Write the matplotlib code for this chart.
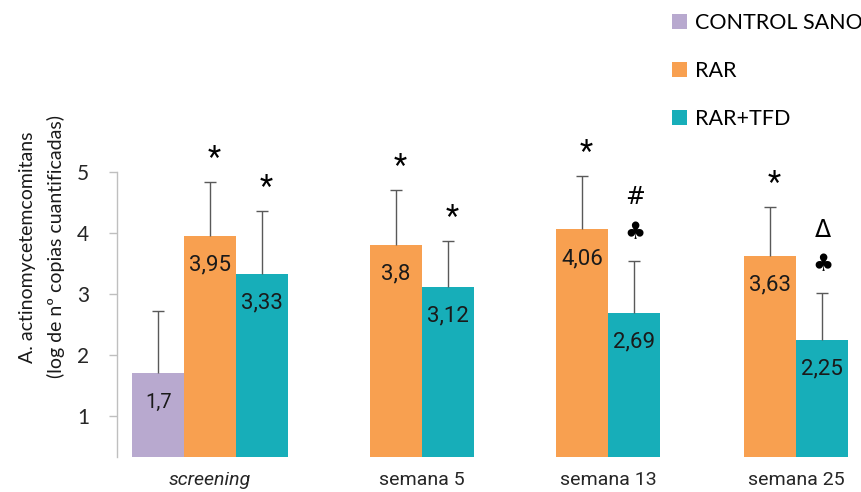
import matplotlib
matplotlib.use("Agg")
import matplotlib.pyplot as plt

plt.rcParams["font.family"] = ["Lato", "DejaVu Sans"]

# --- data -------------------------------------------------------------------
groups = ["screening", "semana 5", "semana 13", "semana 25"]

control = [1.7]            # only measured at screening
control_err = [1.02]

rar = [3.95, 3.8, 4.06, 3.63]
rar_err = [0.89, 0.91, 0.88, 0.80]

rar_tfd = [3.33, 3.12, 2.69, 2.25]
rar_tfd_err = [1.03, 0.75, 0.85, 0.76]

# significance marks stacked above each error bar (bottom to top)
rar_marks = [["*"], ["*"], ["*"], ["*"]]
rar_tfd_marks = [["*"], ["*"], ["♣", "#"], ["♣", "Δ"]]

labels = ["CONTROL SANO", "RAR", "RAR+TFD"]

# --- style / layout ---------------------------------------------------------
COLORS = {"CONTROL SANO": "#B8A9CF", "RAR": "#F8A050", "RAR+TFD": "#17AEB9"}
ERR_COLOR = "#595959"
SPINE_COLOR = "#BFBFBF"

W, H, DPI = 861, 492, 100
BAR_W = 51.7                           # x axis runs in figure pixels
group_centres = [210, 422, 608, 796]

fig = plt.figure(figsize=(W / DPI, H / DPI), dpi=DPI)
ax = fig.add_axes([117 / W, (H - 457) / H, 1 - 117 / W, (457 - 172) / H])
ax.set_xlim(117, W)
ax.set_ylim(0.33, 5.0)

err_kw = dict(ecolor=ERR_COLOR, elinewidth=1.0, capsize=4.3, capthick=1.0)


def fmt(v):
    return f"{v:g}".replace(".", ",")


def draw_series(xs, vals, errs, name, marks=None, label_size=16):
    bars = ax.bar(xs, vals, BAR_W, color=COLORS[name], label=name,
                  yerr=[[0] * len(vals), errs], error_kw=err_kw, zorder=2)
    # upper whisker only: hide the cap sitting on top of the bar
    bars.errorbar.lines[1][0].set_visible(False)
    for x, v in zip(xs, vals):
        ax.annotate(fmt(v), (x, v), xytext=(0, -21), textcoords="offset points",
                    ha="center", va="center", fontsize=label_size,
                    family="Roboto", color="#1a1a1a")
    if marks:
        for x, v, e, mk in zip(xs, vals, errs, marks):
            for i, m in enumerate(mk):
                if m == "*":
                    ax.annotate(m, (x, v + e), xytext=(3, 17 + 26 * i),
                                textcoords="offset points", ha="center",
                                va="center", fontsize=22, family="Roboto")
                else:
                    ax.annotate(m, (x, v + e), xytext=(1, 21 + 25 * i),
                                textcoords="offset points", ha="center",
                                va="center", fontsize=17,
                                family=["DejaVu Sans"])
    return bars


draw_series([group_centres[0] - BAR_W], control, control_err, "CONTROL SANO",
            label_size=14.5)
rar_x = [group_centres[0]] + [c - BAR_W / 2 for c in group_centres[1:]]
tfd_x = [group_centres[0] + BAR_W] + [c + BAR_W / 2 for c in group_centres[1:]]
draw_series(rar_x, rar, rar_err, "RAR", rar_marks)
draw_series(tfd_x, rar_tfd, rar_tfd_err, "RAR+TFD", rar_tfd_marks)

# --- axes -------------------------------------------------------------------
for s in ("top", "right", "bottom"):
    ax.spines[s].set_visible(False)
ax.spines["left"].set_color(SPINE_COLOR)
ax.spines["left"].set_linewidth(1.0)

ax.set_yticks([1, 2, 3, 4, 5])
ax.tick_params(axis="y", length=6, width=1.0, color=SPINE_COLOR, pad=14,
               labelsize=15, labelcolor="#262626")
ax.set_xticks(group_centres, groups)
ax.tick_params(axis="x", length=0, pad=10, labelsize=14, labelcolor="#262626")
for t in ax.get_xticklabels():
    t.set_family("Roboto")
ax.get_xticklabels()[0].set_fontstyle("italic")

fig.text(28 / W, 1 - 247 / H, "A. actinomycetemcomitans", rotation=90,
         ha="center", va="center", fontsize=14, color="#1a1a1a")
fig.text(56 / W, 1 - 247 / H, "(log de nº copias cuantificadas)", rotation=90,
         ha="center", va="center", fontsize=14, color="#1a1a1a")

fig.legend(loc="upper left", bbox_to_anchor=(672 / W, 1 - 13 / H),
           frameon=False, fontsize=15.5, handlelength=0.7, handleheight=0.7,
           handletextpad=0.35, labelspacing=1.3, borderpad=0,
           borderaxespad=0)

fig.savefig("out.png", dpi=DPI)
